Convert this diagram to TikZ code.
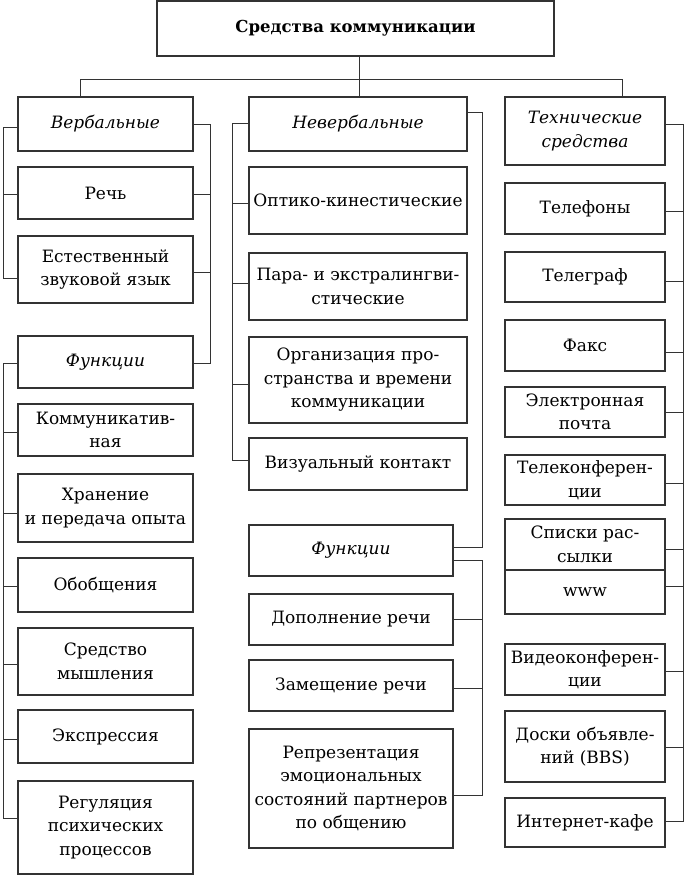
\documentclass[tikz,border=0pt]{standalone}
\usepackage{fontspec}
\setmainfont{DejaVu Serif}
\newcommand\mkbox[6]{\node[box, minimum width={#4-#2}, minimum height={#5-#3}] (#1) at ({(#2+#4)/2},{(#3+#5)/2}) {#6};}
\begin{document}
\begin{tikzpicture}[x=1pt,y=-1pt,
 box/.style={draw=black!80, line width=1.1pt, inner sep=0pt, align=center, font=\fontsize{17}{23.5}\selectfont},
 conn/.style={draw=black!80, line width=0.9pt}]
\useasboundingbox (0,0) rectangle (684,875);
% top
\mkbox{top}{157}{1}{554}{56}{\fontsize{16.5}{20}\selectfont\bfseries Средства коммуникации}
% left column
\mkbox{vb}{18}{97}{193}{151}{\itshape Вербальные}
\mkbox{rech}{18}{167}{193}{219}{Речь}
\mkbox{est}{18}{236}{193}{303}{Естественный\\звуковой язык}
\mkbox{fl}{18}{336}{193}{388}{\itshape Функции}
\mkbox{kom}{18}{404}{193}{456}{Коммуникатив-\\ная}
\mkbox{hran}{18}{474}{193}{542}{Хранение\\и передача опыта}
\mkbox{obob}{18}{558}{193}{612}{Обобщения}
\mkbox{sred}{18}{628}{193}{695}{Средство\\мышления}
\mkbox{eksp}{18}{710}{193}{763}{Экспрессия}
\mkbox{reg}{18}{781}{193}{874}{Регуляция\\психических\\процессов}
% middle column
\mkbox{nv}{249}{97}{467}{151}{\itshape Невербальные}
\mkbox{opt}{249}{167}{467}{234}{Оптико-кинестические}
\mkbox{para}{249}{253}{467}{320}{Пара- и экстралингви-\\стические}
\mkbox{org}{249}{337}{467}{423}{Организация про-\\странства и времени\\коммуникации}
\mkbox{vis}{249}{438}{467}{490}{Визуальный контакт}
\mkbox{fm}{249}{525}{453}{576}{\itshape Функции}
\mkbox{dop}{249}{594}{453}{645}{Дополнение речи}
\mkbox{zam}{249}{660}{453}{711}{Замещение речи}
\mkbox{rep}{249}{729}{453}{848}{Репрезентация\\эмоциональных\\состояний партнеров\\по общению}
% right column
\mkbox{tech}{505}{97}{665}{165}{\itshape Технические\\\itshape средства}
\mkbox{tel}{505}{183}{665}{234}{Телефоны}
\mkbox{telg}{505}{252}{665}{302}{Телеграф}
\mkbox{faks}{505}{320}{665}{371}{Факс}
\mkbox{mail}{505}{387}{665}{437}{Электронная\\почта}
\mkbox{telk}{505}{455}{665}{505}{Телеконферен-\\ции}
\mkbox{spis}{505}{519}{665}{570}{Списки рас-\\сылки}
\mkbox{www}{505}{570}{665}{614}{www}
\mkbox{video}{505}{644}{665}{695}{Видеоконферен-\\ции}
\mkbox{doski}{505}{711}{665}{782}{Доски объявле-\\ний (BBS)}
\mkbox{inet}{505}{798}{665}{847}{Интернет-кафе}
% bus coordinates
\coordinate (busL) at (80,79);
\coordinate (busC) at (359,79);
\coordinate (busR) at (622,79);
\coordinate (LB) at (3,0);
\coordinate (RB1) at (210,0);
\coordinate (MB) at (232,0);
\coordinate (MR) at (482,0);
\coordinate (RB) at (683,0);
% top connectors
\draw[conn] (top.south -| busC) -- (nv.north -| busC);
\draw[conn] (busL |- vb.north) -- (busL) -- (busR) -- (busR |- tech.north);
% left column, verbal group
\draw[conn] (vb.west |- 0,127) -- (LB |- 0,127) -- (LB |- 0,278) -- (est.west |- 0,278);
\draw[conn] (rech.west |- 0,194) -- (LB |- 0,194);
\draw[conn] (vb.east |- 0,124) -- (RB1 |- 0,124) -- (RB1 |- 0,363) -- (fl.east |- 0,363);
\draw[conn] (rech.east |- 0,194) -- (RB1 |- 0,194);
\draw[conn] (est.east |- 0,272) -- (RB1 |- 0,272);
% left column, functions
\draw[conn] (fl.west |- 0,363) -- (LB |- 0,363) -- (LB |- 0,818) -- (reg.west |- 0,818);
\foreach \n/\y in {kom/432, hran/513, obob/586, sred/664, eksp/739}
  \draw[conn] (\n.west |- 0,\y) -- (LB |- 0,\y);
% middle column
\draw[conn] (nv.west |- 0,123) -- (MB |- 0,123) -- (MB |- 0,460) -- (vis.west |- 0,460);
\foreach \n/\y in {opt/203, para/283, org/384}
  \draw[conn] (\n.west |- 0,\y) -- (MB |- 0,\y);
\draw[conn] (nv.east |- 0,112) -- (MR |- 0,112) -- (MR |- 0,547) -- (fm.east |- 0,547);
\draw[conn] (fm.east |- 0,560) -- (MR |- 0,560) -- (MR |- 0,795) -- (rep.east |- 0,795);
\foreach \n/\y in {dop/619, zam/688}
  \draw[conn] (\n.east |- 0,\y) -- (MR |- 0,\y);
% right column
\draw[conn] (tech.east |- 0,124) -- (RB |- 0,124) -- (RB |- 0,821) -- (inet.east |- 0,821);
\foreach \n/\y in {tel/211, telg/281, faks/352, mail/412, telk/483, spis/549, www/586, video/671, doski/747}
  \draw[conn] (\n.east |- 0,\y) -- (RB |- 0,\y);
\end{tikzpicture}
\end{document}
